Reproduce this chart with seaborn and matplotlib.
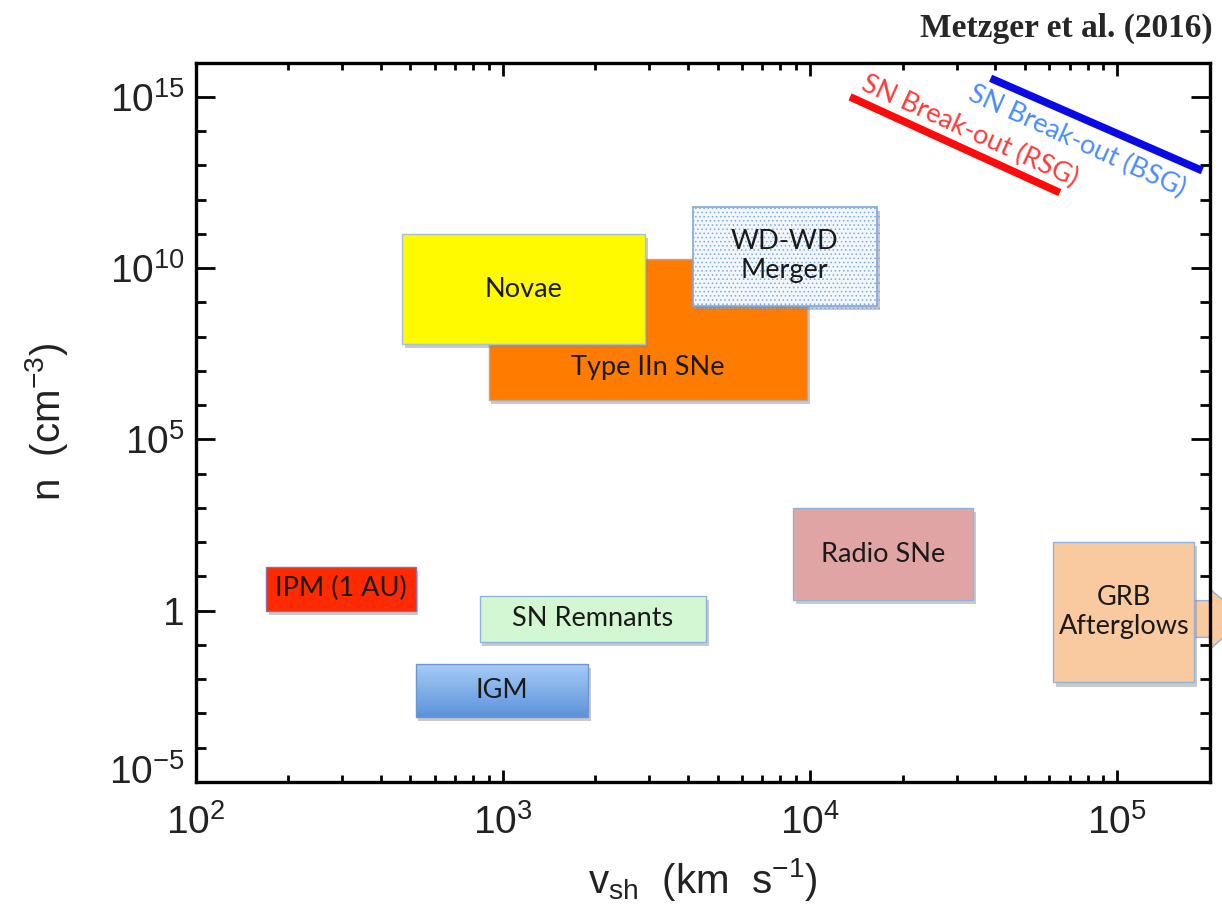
import numpy as np
import pandas as pd
import matplotlib
matplotlib.use("Agg")
import matplotlib.pyplot as plt
import matplotlib.patheffects as pe
import matplotlib.transforms as mtransforms
from matplotlib.patches import Rectangle, Polygon
from matplotlib.ticker import FixedLocator, LogLocator, NullFormatter, FuncFormatter
from matplotlib.colors import to_rgb
import seaborn as sns

# Shock environments: shock velocity range (km/s) and upstream density range (cm^-3)
names = ["IPM (1 AU)", "IGM", "SN Remnants", "Novae", "Type IIn SNe",
         "WD-WD\nMerger", "Radio SNe", "GRB\nAfterglows"]
v_lo = [170, 520, 840, 470, 900, 4150, 8800, 62000]
v_hi = [520, 1900, 4600, 2900, 9800, 16500, 34000, 178000]
n_lo = [1.0, 8e-4, 0.12, 6e7, 1.4e6, 8e8, 2.0, 8e-3]
n_hi = [19, 0.027, 2.7, 1e11, 1.8e10, 6e11, 1e3, 100]
face = ["#FF2A00", "#6FA3E4", "#D3F7D3", "#FFFA00", "#FF7C00",
        "#F2F7FD", "#E0A4A4", "#F9C9A0"]
edge = ["#8C6FA8", "#6A97CF", "#8FB3DE", "#A8C0D8", "#A8A8B8",
        "#8FB3DE", "#8FB3DE", "#8FB3DE"]

# Shock break-out tracks
breakout_labels = ["SN Break-out (RSG)", "SN Break-out (BSG)"]
breakout_v = [[13500, 65000], [38700, 189000]]
breakout_n = [[1.0e15, 1.6e12], [3.5e15, 7.0e12]]
breakout_line_colors = ["#FF0A0A", "#0A0AE6"]
breakout_text_colors = ["#FF3A3A", "#4A8CFF"]
breakout_text_pos = [(33000, 1.0e14), (74000, 5.0e13)]

sns.set_theme(style="ticks")
plt.rcParams["font.family"] = ["Liberation Sans", "DejaVu Sans"]
plt.rcParams["mathtext.fontset"] = "custom"
plt.rcParams["mathtext.rm"] = "Liberation Sans"
plt.rcParams["mathtext.it"] = "Liberation Sans"
plt.rcParams["hatch.linewidth"] = 0.6

fig = plt.figure(figsize=(12.22, 9.08), dpi=100)
ax = fig.add_axes([0.160, 0.139, 0.830, 0.792])
ax.set_xscale("log")
ax.set_yscale("log")
ax.set_xlim(100, 2.0e5)
ax.set_ylim(1e-5, 1e16)

shadow = [pe.SimplePatchShadow(offset=(2, -3), shadow_rgbFace="#888888", alpha=0.45), pe.Normal()]
box_font = dict(family=["Lato", "DejaVu Sans"], fontsize=19.5, color="#1a1a1a",
                ha="center", va="center", linespacing=1.2)

order = [0, 2, 1, 4, 3, 5, 6, 7]
for i in order:
    x0, x1, y0, y1 = v_lo[i], v_hi[i], n_lo[i], n_hi[i]
    if names[i] == "IGM":
        # vertical colour gradient, light on top
        top, bot = np.array(to_rgb("#A4C8F6")), np.array(to_rgb("#5A93DA"))
        ly = np.linspace(np.log10(y0), np.log10(y1), 25)
        sh = Rectangle((x0, y0), x1 - x0, y1 - y0, facecolor="white", edgecolor="none",
                       path_effects=[pe.SimplePatchShadow(offset=(2, -3), shadow_rgbFace="#888888", alpha=0.45)],
                       zorder=2)
        ax.add_patch(sh)
        for k in range(len(ly) - 1):
            t = k / (len(ly) - 2)
            c = bot * (1 - t) + top * t
            ax.add_patch(Rectangle((x0, 10 ** ly[k]), x1 - x0, 10 ** ly[k + 1] - 10 ** ly[k],
                                   facecolor=c, edgecolor=c, lw=0.5, zorder=2.1))
        ax.add_patch(Rectangle((x0, y0), x1 - x0, y1 - y0, facecolor="none",
                               edgecolor=edge[i], lw=1.0, zorder=2.2))
    elif names[i].startswith("WD"):
        r = Rectangle((x0, y0), x1 - x0, y1 - y0, facecolor=face[i], edgecolor="#7FA8DA",
                      hatch="....", lw=1.2, zorder=2, path_effects=shadow)
        ax.add_patch(r)
    else:
        r = Rectangle((x0, y0), x1 - x0, y1 - y0, facecolor=face[i], edgecolor=edge[i],
                      lw=1.0, zorder=2, path_effects=shadow)
        ax.add_patch(r)

# box labels (Type IIn label sits in the lower part of its box)
for i in range(len(names)):
    cx = np.sqrt(v_lo[i] * v_hi[i])
    cy = np.sqrt(n_lo[i] * n_hi[i])
    if names[i] == "Type IIn SNe":
        cy = 10 ** (np.log10(n_lo[i]) + 0.23 * (np.log10(n_hi[i]) - np.log10(n_lo[i])))
    ax.text(cx, cy, names[i], zorder=5, **box_font)

# GRB arrow pointing to higher velocities
gy0, gy1 = 0.165, 1.95
arrow = Polygon([(1.78e5, gy1), (2.02e5, gy1), (2.02e5, 4.0), (2.6e5, 0.57),
                 (2.02e5, 0.08), (2.02e5, gy0), (1.78e5, gy0)],
                closed=True, facecolor="#F9C9A0", edgecolor="#8FB3DE", lw=1.0,
                clip_on=False, zorder=1.5)
ax.add_patch(arrow)

# break-out lines
for lab, vv, nn, lc, tc, (tx, ty) in zip(breakout_labels, breakout_v, breakout_n,
                                         breakout_line_colors, breakout_text_colors,
                                         breakout_text_pos):
    df = pd.DataFrame({"v": vv, "n": nn})
    sns.lineplot(data=df, x="v", y="n", ax=ax, color=lc, lw=5.5, zorder=4,
                 solid_capstyle="butt", legend=False)
    ax.text(tx, ty, lab, rotation=-24.5, rotation_mode="anchor", ha="center", va="center",
            color=tc, fontsize=19.5, family=["Lato", "DejaVu Sans"], zorder=5)

# axes styling
for s in ax.spines.values():
    s.set_linewidth(2.4)
    s.set_color("black")

ax.xaxis.set_major_locator(FixedLocator([1e2, 1e3, 1e4, 1e5]))
ax.xaxis.set_minor_locator(LogLocator(base=10, subs=np.arange(2, 10), numticks=20))
ax.yaxis.set_major_locator(FixedLocator([1e-5, 1e0, 1e5, 1e10, 1e15]))
ax.yaxis.set_minor_locator(FixedLocator([10.0 ** k for k in range(-5, 17) if k % 5 != 0]))
ax.xaxis.set_minor_formatter(NullFormatter())
ax.yaxis.set_minor_formatter(NullFormatter())


def pow_fmt(val, pos):
    e = int(round(np.log10(val)))
    if e == 0:
        return "1"
    return r"$10^{%d}$" % e


ax.xaxis.set_major_formatter(FuncFormatter(pow_fmt))
ax.yaxis.set_major_formatter(FuncFormatter(pow_fmt))
ax.tick_params(which="both", direction="in", top=True, right=True, width=2.0, color="black")
ax.tick_params(axis="x", which="major", length=9, labelsize=28, pad=16, labelcolor="#222222")
ax.tick_params(axis="x", which="minor", length=5)
ax.tick_params(axis="y", which="major", length=14, labelsize=28, pad=8, labelcolor="#222222")
ax.tick_params(axis="y", which="minor", length=7)
# lift the lowest y label a little off the bottom spine
low = ax.get_yticklabels()[0]
low.set_transform(low.get_transform() + mtransforms.ScaledTranslation(0, 9 / 72, fig.dpi_scale_trans))

ax.set_xlabel(r"v$_{\rm sh}$  (km  s$^{-1}$)", fontsize=29, color="#222222", labelpad=10)
ax.set_ylabel(r"n  (cm$^{-3}$)", fontsize=29, color="#222222", labelpad=28)

fig.text(0.9926, 0.969, "Metzger et al. (2016)", ha="right", va="center",
         family=["Liberation Serif", "DejaVu Serif"], fontweight="bold", fontsize=24)

fig.savefig("out.png", dpi=100)
